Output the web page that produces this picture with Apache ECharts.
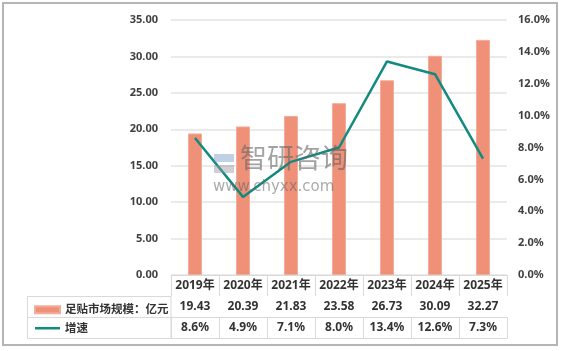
<!DOCTYPE html>
<html>
<head>
<meta charset="utf-8">
<script src="https://cdn.jsdelivr.net/npm/echarts@6/dist/echarts.min.js"></script>
<style>
  html, body { margin: 0; padding: 0; background: #fff; }
  #chart { width: 563px; height: 351px; }
</style>
</head>
<body>
<div id="chart"></div>
<script>
// data
const years = ["2019年", "2020年", "2021年", "2022年", "2023年", "2024年", "2025年"]
const marketSize = [19.43, 20.39, 21.83, 23.58, 26.73, 30.09, 32.27] // 亿元
const growth = [8.6, 4.9, 7.1, 8.0, 13.4, 12.6, 7.3] // %
const barName = "足贴市场规模：亿元"
const lineName = "增速"

const font = "'Noto Sans', 'Noto Sans CJK SC', sans-serif"
const textColor = "#333"
const tableLine = "#d9d9d9"

// table rows are extra category axes under the plot
function tableAxis(labels, offset, showLabels) {
  return {
    type: "category",
    gridIndex: 0,
    position: "bottom",
    offset: offset,
    data: labels,
    axisLine: { show: true, lineStyle: { color: tableLine, width: 1 } },
    axisTick: { show: showLabels, inside: false, length: 21, lineStyle: { color: tableLine } },
    axisLabel: {
      show: showLabels,
      interval: 0,
      margin: 5,
      color: textColor,
      fontWeight: "bold",
      fontSize: 12,
      fontFamily: font
    },
    splitLine: { show: false }
  }
}

const chart = echarts.init(document.getElementById("chart"))
const option = {
  backgroundColor: "#fff",
  animation: false,
  grid: { left: 171, right: 56, top: 20, bottom: 76 },
  legend: {
    orient: "vertical",
    left: 29,
    top: 299,
    itemWidth: 25,
    itemHeight: 7,
    itemGap: 7,
    textStyle: { color: textColor, fontWeight: "bold", fontSize: 11.5, fontFamily: font },
    data: [
      { name: barName, icon: "rect" },
      { name: lineName, icon: "path://M0,0H25V2.5H0Z" }
    ]
  },
  xAxis: [
    tableAxis(years, 0, true),
    tableAxis(marketSize.map(v => v.toFixed(2)), 21, true),
    tableAxis(growth.map(v => v.toFixed(1) + "%"), 42, true),
    tableAxis(years, 63, false)
  ],
  yAxis: [
    {
      type: "value",
      min: 0,
      max: 35,
      interval: 5,
      axisLine: { show: false },
      axisTick: { show: false },
      axisLabel: {
        margin: 13,
        color: "#404040",
        fontWeight: "bold",
        fontSize: 11,
        fontFamily: font,
        formatter: v => v.toFixed(2)
      },
      splitLine: { lineStyle: { color: "#e3e3e3", width: 1.5 } }
    },
    {
      type: "value",
      min: 0,
      max: 16,
      interval: 2,
      axisLine: { show: false },
      axisTick: { show: false },
      axisLabel: {
        margin: 11,
        color: "#404040",
        fontWeight: "bold",
        fontSize: 11,
        fontFamily: font,
        formatter: v => v.toFixed(1) + "%"
      },
      splitLine: { show: false }
    }
  ],
  series: [
    {
      name: barName,
      type: "bar",
      xAxisIndex: 0,
      yAxisIndex: 0,
      barWidth: 14,
      itemStyle: { color: "#ef9179", borderColor: "#f4ab98", borderWidth: 1 },
      data: marketSize
    },
    {
      name: lineName,
      type: "line",
      xAxisIndex: 0,
      yAxisIndex: 1,
      symbol: "none",
      lineStyle: { color: "#138a7e", width: 2.5 },
      itemStyle: { color: "#138a7e" },
      data: growth
    }
  ],
  graphic: [
    // outer frame
    { type: "rect", shape: { x: 3, y: 3, width: 554, height: 342 }, style: { fill: null, stroke: "#b5b5b5", lineWidth: 2 }, z: 100 },
    // legend column of the table
    { type: "rect", shape: { x: 27.5, y: 296.5, width: 143.5, height: 42 }, style: { fill: null, stroke: tableLine, lineWidth: 1 }, z: 100 },
    { type: "line", shape: { x1: 27.5, y1: 317.5, x2: 171, y2: 317.5 }, style: { stroke: tableLine, lineWidth: 1 }, z: 100 },
    // watermark
    { type: "text", left: 240, top: 147, style: { text: "智研咨询", fontSize: 27, fontFamily: font, fill: "rgba(100,100,100,0.6)" }, z: 50 },
    { type: "text", left: 213, top: 180, style: { text: "www.chyxx.com", fontSize: 15, fontFamily: "'DejaVu Sans', sans-serif", fill: "rgba(100,100,100,0.55)" }, z: 50 },
    { type: "rect", shape: { x: 214, y: 154, width: 20, height: 8 }, style: { fill: "rgba(120,150,200,0.45)" }, z: 50 },
    { type: "rect", shape: { x: 214, y: 165, width: 20, height: 8 }, style: { fill: "rgba(150,150,160,0.45)" }, z: 50 }
  ]
}
chart.setOption(option)
</script>
</body>
</html>
